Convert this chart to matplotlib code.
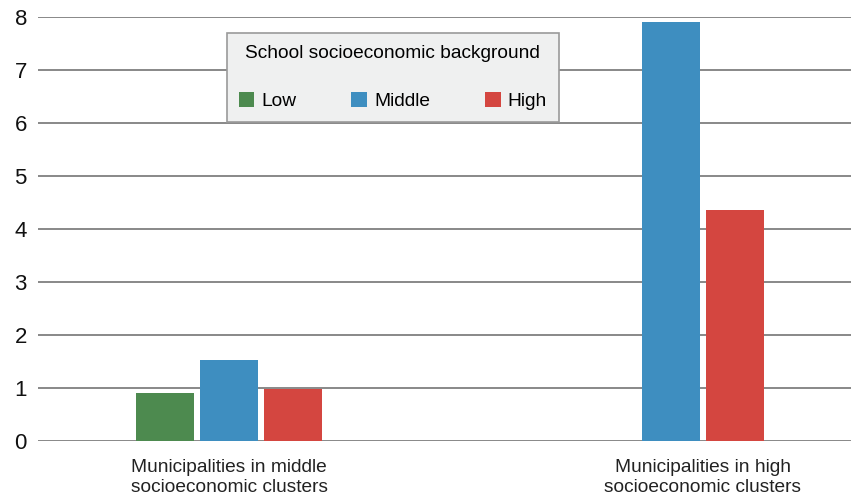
import numpy as np
import matplotlib.pyplot as plt

plt.rcParams['font.family'] = ['Liberation Sans', 'DejaVu Sans']

# data
categories = ["Municipalities in middle\nsocioeconomic clusters",
              "Municipalities in high\nsocioeconomic clusters"]
series_names = ["Low", "Middle", "High"]
low = [0.91, np.nan]
middle = [1.52, 7.9]
high = [0.99, 4.36]
colors = ["#4d8a4f", "#3e8ec0", "#d44640"]

fig = plt.figure(figsize=(8.51, 5.0), dpi=100)
ax = fig.add_axes([0.0447, 0.118, 0.9553, 0.848])

x = np.arange(len(categories))
width = 0.131
step = 0.144
offsets = [-step, 0, step]

for vals, off, col, name in zip([low, middle, high], offsets, colors, series_names):
    ax.bar(x + off, vals, width, color=col, label=name, zorder=3)

# label sits under the bars that actually have data
tick_pos = []
for i in range(len(categories)):
    present = [off for vals, off in zip([low, middle, high], offsets) if not np.isnan(vals[i])]
    tick_pos.append(x[i] + np.mean(present))
ax.set_xticks(tick_pos)
ax.set_xticklabels(categories, fontsize=13.8, color="#222222", linespacing=1.22)
ax.tick_params(axis='x', length=0, pad=13)

ax.set_ylim(0, 8)
ax.set_xlim(-0.432, 1.407)
ax.set_yticks(range(0, 9))
ax.tick_params(axis='y', length=0, labelsize=16, pad=8, labelcolor="#111111")
ax.grid(axis='y', color="#888888", linewidth=1.4, zorder=0)
for s in ax.spines.values():
    s.set_visible(False)

leg = ax.legend(title="School socioeconomic background", ncol=3, loc="upper left",
                bbox_to_anchor=(0.2325, 0.962), borderaxespad=0,
                fontsize=13.8, title_fontsize=13.8,
                fancybox=False, frameon=True, handlelength=0.82, handleheight=0.82,
                handletextpad=0.38, columnspacing=2.85, borderpad=0.6, labelspacing=0.5)
leg.get_frame().set_facecolor("#eff0f0")
leg.get_frame().set_edgecolor("#9a9a9a")
leg.get_frame().set_linewidth(1.2)
leg.get_frame().set_alpha(1)
leg._legend_box.sep = 22

fig.savefig("out.png", dpi=100)
